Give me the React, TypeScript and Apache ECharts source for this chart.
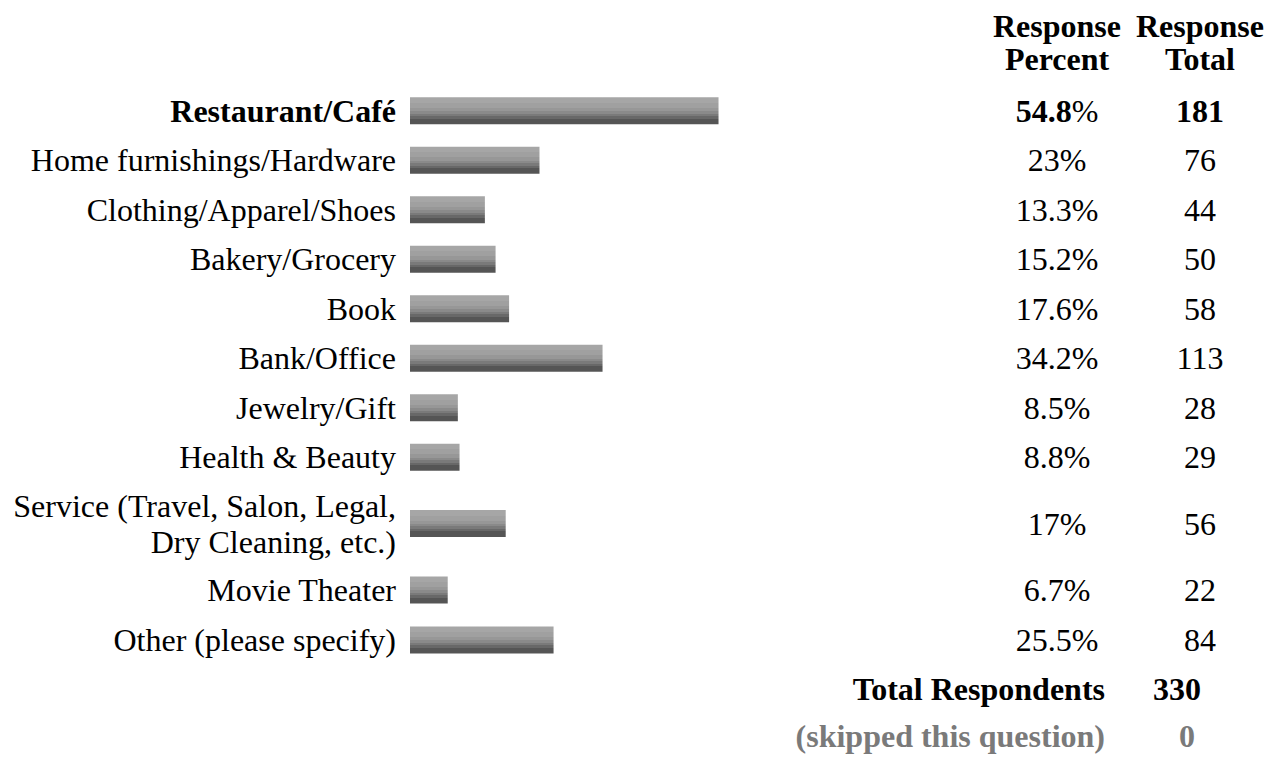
import React, { useEffect, useRef } from "react";
import * as echarts from "echarts";

const categories = [
  "Restaurant/Café",
  "Home furnishings/Hardware",
  "Clothing/Apparel/Shoes",
  "Bakery/Grocery",
  "Book",
  "Bank/Office",
  "Jewelry/Gift",
  "Health & Beauty",
  "Service (Travel, Salon, Legal,\nDry Cleaning, etc.)",
  "Movie Theater",
  "Other (please specify)",
];
const percents = [54.8, 23, 13.3, 15.2, 17.6, 34.2, 8.5, 8.8, 17, 6.7, 25.5];
const totals = [181, 76, 44, 50, 58, 113, 28, 29, 56, 22, 84];
const headerPercent = "Response\nPercent";
const headerTotal = "Response\nTotal";
const totalRespondentsLabel = "Total Respondents";
const totalRespondents = 330;
const skippedLabel = "(skipped this question)";
const skipped = 0;

const FONT = "'Liberation Serif', 'Times New Roman', serif";
const FS = 32;

export default function App() {
  const ref = useRef<HTMLDivElement>(null);
  useEffect(() => {
    if (!ref.current) return;
    const chart = echarts.init(ref.current, undefined, { renderer: "svg" });

    const groups = [
      [0, 8],
      [8, 9],
      [9, 11],
    ];
    const gridBoxes = [
      { top: 86, height: 396 },
      { top: 482, height: 83 },
      { top: 565, height: 100 },
    ];
    const left = 410;
    const width = 563;
    const rightEdge = left + width;

    const barColor = {
      type: "linear",
      x: 0,
      y: 0,
      x2: 0,
      y2: 1,
      colorStops: [
        { offset: 0, color: "#a6a6a6" },
        { offset: 0.21, color: "#a6a6a6" },
        { offset: 0.21, color: "#a0a0a0" },
        { offset: 0.39, color: "#a0a0a0" },
        { offset: 0.39, color: "#979797" },
        { offset: 0.51, color: "#979797" },
        { offset: 0.51, color: "#8a8a8a" },
        { offset: 0.61, color: "#8a8a8a" },
        { offset: 0.61, color: "#7a7a7a" },
        { offset: 0.7, color: "#7a7a7a" },
        { offset: 0.7, color: "#686868" },
        { offset: 0.79, color: "#686868" },
        { offset: 0.79, color: "#555555" },
        { offset: 1, color: "#555555" },
      ],
    };

    const rich = {
      b: { fontFamily: FONT, fontSize: FS, fontWeight: "bold", color: "#000", lineHeight: 36 },
      n: { fontFamily: FONT, fontSize: FS, fontWeight: "normal", color: "#000", lineHeight: 36 },
    };

    const grid: any[] = [];
    const xAxis: any[] = [];
    const yAxis: any[] = [];
    const series: any[] = [];

    groups.forEach(([s, e], gi) => {
      const cats = categories.slice(s, e);
      const pcts = percents.slice(s, e);
      const tots = totals.slice(s, e);
      grid.push({ left, width, top: gridBoxes[gi].top, height: gridBoxes[gi].height });
      xAxis.push({ gridIndex: gi, type: "value", min: 0, max: 100, show: false });
      const baseY = {
        gridIndex: gi,
        type: "category",
        inverse: true,
        axisLine: { show: false },
        axisTick: { show: false },
        splitLine: { show: false },
      };
      yAxis.push({
        ...baseY,
        position: "left",
        data: cats,
        axisLabel: {
          interval: 0,
          margin: 14,
          fontFamily: FONT,
          fontSize: FS,
          color: "#000",
          lineHeight: 36,
          rich,
          formatter: (v: string, i: number) => (s + i === 0 ? `{b|${v}}` : v),
        },
      });
      yAxis.push({
        ...baseY,
        position: "right",
        data: pcts.map(String),
        axisLabel: {
          interval: 0,
          margin: 1057 - rightEdge,
          align: "center",
          fontFamily: FONT,
          fontSize: FS,
          color: "#000",
          rich,
          formatter: (v: string, i: number) => (s + i === 0 ? `{b|${v}}{n|%}` : `{n|${v}%}`),
        },
      });
      yAxis.push({
        ...baseY,
        position: "right",
        data: tots.map(String),
        axisLabel: {
          interval: 0,
          margin: 1200 - rightEdge,
          align: "center",
          fontFamily: FONT,
          fontSize: FS,
          color: "#000",
          rich,
          formatter: (v: string, i: number) => (s + i === 0 ? `{b|${v}}` : `{n|${v}}`),
        },
      });
      series.push({
        type: "bar",
        xAxisIndex: gi,
        yAxisIndex: gi * 3,
        data: pcts,
        barWidth: 27,
        itemStyle: { color: barColor },
        silent: true,
      });
    });

    const boldText = (x: number, y: number, text: string, align: string, color: string) => ({
      type: "text",
      x,
      y,
      style: {
        text,
        fontFamily: FONT,
        fontSize: FS,
        fontWeight: "bold",
        fill: color,
        align,
        verticalAlign: "middle",
        lineHeight: 33,
      },
    });

    chart.setOption({
      animation: false,
      grid,
      xAxis,
      yAxis,
      series,
      graphic: [
        boldText(1057, 42, headerPercent, "center", "#000"),
        boldText(1200, 42, headerTotal, "center", "#000"),
        boldText(1105, 689, totalRespondentsLabel, "right", "#000"),
        boldText(1177, 689, String(totalRespondents), "center", "#000"),
        boldText(1105, 736, skippedLabel, "right", "#7a7a7a"),
        boldText(1187, 736, String(skipped), "center", "#7a7a7a"),
      ],
    });
    return () => chart.dispose();
  }, []);
  return (
    <div
      ref={ref}
      style={{ position: "fixed", left: 0, top: 0, width: 1267, height: 757, background: "#fff" }}
    />
  );
}
